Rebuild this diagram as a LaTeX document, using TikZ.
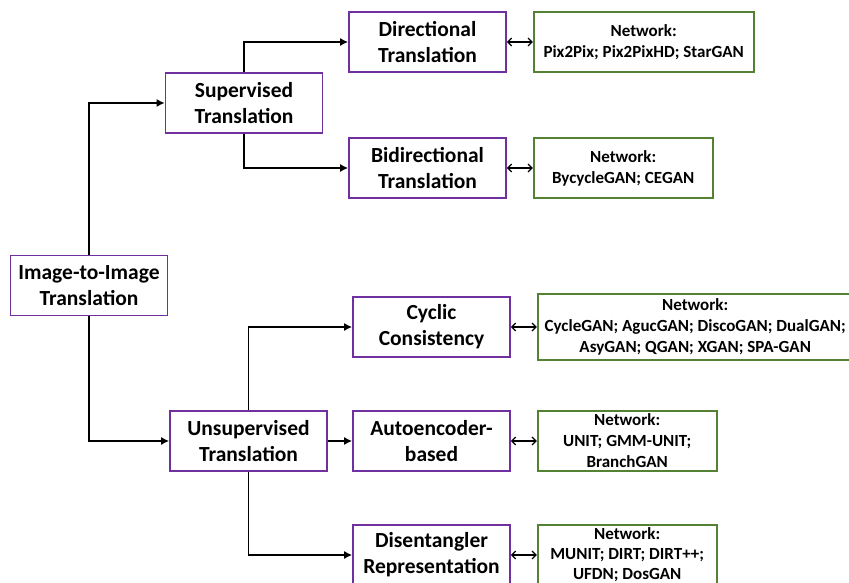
\documentclass[tikz,border=0pt]{standalone}
\usepackage{fontspec}
\setmainfont{Carlito}
\usepackage{xcolor}
\usetikzlibrary{arrows.meta,positioning}
\definecolor{clspurple}{RGB}{112,48,160}
\definecolor{netgreen}{RGB}{84,130,53}

\begin{document}
\begin{tikzpicture}[x=1pt, y=-1pt,
    cls/.style={rectangle, draw=clspurple, line width=1.7pt, fill=white, minimum width=157pt, minimum height=60pt, inner sep=0pt, align=center, font=\fontsize{21.5}{26}\selectfont\bfseries},
    net/.style={rectangle, draw=netgreen, line width=1.7pt, fill=white, minimum height=60pt, inner sep=0pt, align=center, font=\fontsize{17}{21}\selectfont\bfseries},
    arr/.style={-{Latex[length=8pt,width=8pt]}, line width=1.4pt},
    darr/.style={{Straight Barb[length=4pt,width=8pt]}-{Straight Barb[length=4pt,width=8pt]}, line width=1.2pt}
  ]
  \useasboundingbox (0,0) rectangle (849,583);

  %% Column positions (x-coords)
  \def\xR{89}
  \def\xS{244}
  \def\xU{248.5}
  \def\xT{427.5}
  \def\xB{431.5}

  %% Root
  \node[cls] (root) at (\xR, 285.5) {Image-to-Image\\Translation};

  %% Second level
  \node[cls] (sup) at (\xS, 103) {Supervised\\Translation};
  \node[cls] (uns) at (\xU, 441) {Unsupervised\\Translation};

  %% Supervised branches
  \node[cls] (dir) at (\xT, 42)  {Directional\\Translation};
  \node[cls] (bid) at (\xT, 168) {Bidirectional\\Translation};

  %% Unsupervised branches
  \node[cls] (cyc) at (\xB, 327) {Cyclic\\Consistency};
  \node[cls] (aut) at (\xB, 441) {Autoencoder-\\based};
  \node[cls] (dis) at (\xB, 555) {Disentangler\\Representation};

  %% Network boxes
  \node[net, minimum width=220pt, right=26pt of dir] (ndir) {Network:\\Pix2Pix; Pix2PixHD; StarGAN};
  \node[net, minimum width=179pt, right=26pt of bid] (nbid) {Network:\\BycycleGAN; CEGAN};
  \node[net, minimum width=315pt, minimum height=66pt, right=26pt of cyc] (ncyc)
    {Network:\\CycleGAN; AgucGAN; DiscoGAN; DualGAN;\\AsyGAN; QGAN; XGAN; SPA-GAN};
  \node[net, minimum width=179pt, right=26pt of aut] (naut) {Network:\\UNIT; GMM-UNIT;\\BranchGAN};
  \node[net, minimum width=179pt, right=26pt of dis, font=\fontsize{17}{20}\selectfont\bfseries] (ndis)
    {Network:\\MUNIT; DIRT; DIRT++;\\UFDN; DosGAN};

  %% Tree connections
  \draw[arr] (root.north) |- (sup.west);
  \draw[arr] (root.south) |- (uns.west);
  \draw[arr] (sup.north) |- (dir.west);
  \draw[arr] (sup.south) |- (bid.west);
  \draw[arr] (uns.north) |- (cyc.west);
  \draw[arr] (uns.east) -- (aut.west);
  \draw[arr] (uns.south) |- (dis.west);

  %% Method <-> network
  \foreach \s/\t in {dir/ndir, bid/nbid, cyc/ncyc, aut/naut, dis/ndis}{
    \draw[darr] (\s.east) -- (\t.west);
  }

\end{tikzpicture}
\end{document}
